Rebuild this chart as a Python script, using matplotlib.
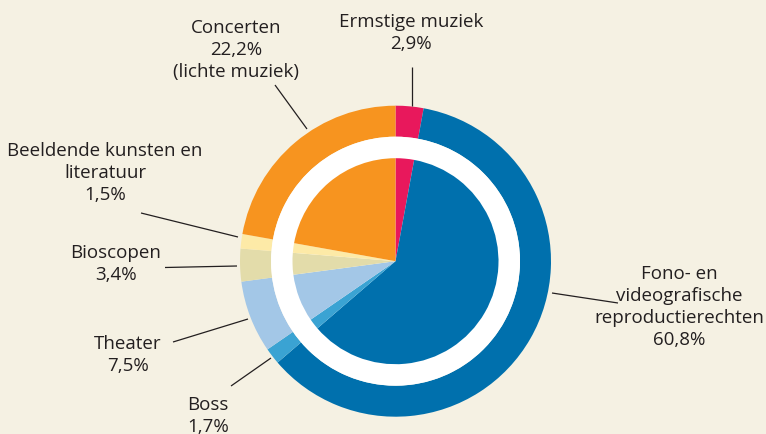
import matplotlib
matplotlib.use("Agg")
import matplotlib.pyplot as plt
from matplotlib.patches import Circle

# ---- data ----
names = ["Ermstige muziek", "Fono- en\nvideografische\nreproductierechten", "Boss",
         "Theater", "Bioscopen", "Beeldende kunsten en\nliteratuur", "Concerten"]
values = [2.9, 60.8, 1.7, 7.5, 3.4, 1.5, 22.2]
suffix = ["", "", "", "", "", "", "\n(lichte muziek)"]
colors = ["#e8185c", "#0070ad", "#3aa3d3", "#a3c7e7", "#e3dcaa", "#fdeaa7", "#f7941f"]

# ---- layout (pixels, y from top) ----
W, H = 766, 434
cx, cy = 395.5, 261.2
R_out, R_white, R_in = 155.5, 124.5, 103.0
BG = "#f5f1e3"
TXT = "#231f20"

# label anchor: (x centre, baseline of first line)
label_pos = [(411, 27), (679, 279), (208, 409.5), (127.5, 349), (115.5, 258.5), (105, 156), (236, 32.7)]
leaders = [((411.7, 67), (411.7, 106)),
           ((618, 303), (552, 293)),
           ((231, 386), (271, 358)),
           ((173, 342), (248, 319)),
           ((165, 267.5), (237, 266)),
           ((141, 213), (238, 237)),
           ((275, 85), (307, 129))]

fig = plt.figure(figsize=(W / 100, H / 100), dpi=100)
fig.patch.set_facecolor(BG)
ax = fig.add_axes([0, 0, 1, 1])
ax.set_facecolor(BG)
ax.set_xlim(0, W)
ax.set_ylim(0, H)
ax.set_aspect("equal")
ax.axis("off")

def Y(y):
    return H - y

ax.pie(values, colors=colors, startangle=90, counterclock=False, radius=R_out,
       center=(cx, Y(cy)), wedgeprops=dict(width=R_out - R_white, linewidth=0))
ax.add_patch(Circle((cx, Y(cy)), R_white, facecolor="white", edgecolor="none", zorder=2))
wedges, _ = ax.pie(values, colors=colors, startangle=90, counterclock=False, radius=R_in,
                   center=(cx, Y(cy)), wedgeprops=dict(linewidth=0))
for w in wedges:
    w.set_zorder(3)
ax.set_xlim(0, W)
ax.set_ylim(0, H)

font = dict(family=["Open Sans", "DejaVu Sans"], size=13.5, color=TXT)
step = 22
for name, v, suf, (x, y0) in zip(names, values, suffix, label_pos):
    pct = f"{v:.1f}".replace(".", ",") + "%"
    lines = name.split("\n") + [pct] + [s for s in suf.split("\n") if s]
    for i, line in enumerate(lines):
        ax.text(x, Y(y0 + i * step), line, ha="center", va="baseline", **font)

for (a, b) in leaders:
    ax.plot([a[0], b[0]], [Y(a[1]), Y(b[1])], color=TXT, lw=0.9, solid_capstyle="butt")

fig.savefig("out.png", dpi=100, facecolor=BG)
